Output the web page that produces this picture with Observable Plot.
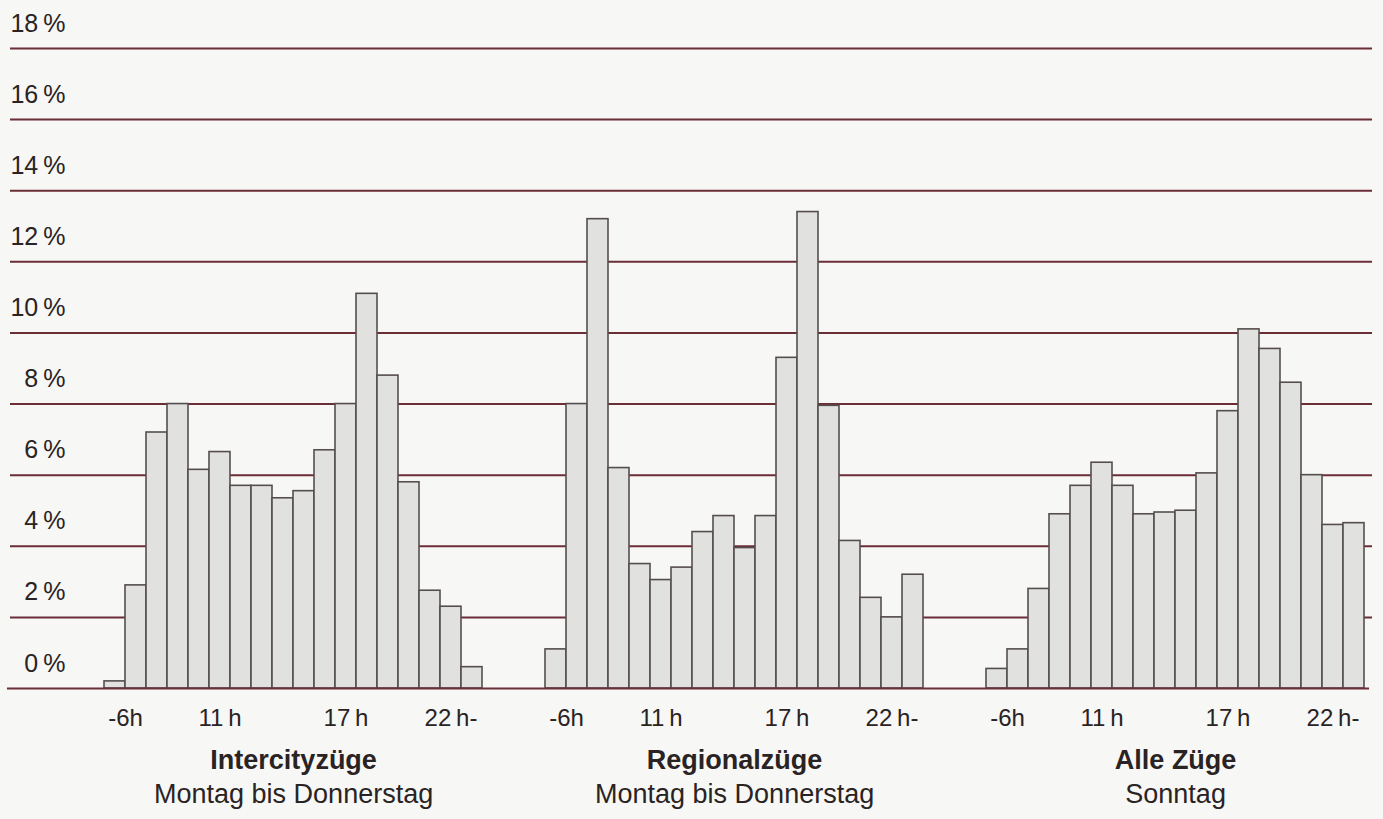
<!DOCTYPE html>
<html>
<head>
<meta charset="utf-8">
<script src="https://cdn.jsdelivr.net/npm/d3@7"></script>
<script src="https://cdn.jsdelivr.net/npm/@observablehq/plot@0.6"></script>
<style>
  html, body { margin: 0; padding: 0; background: #f7f7f5; }
  #chart svg { display: block; }
</style>
</head>
<body>
<div id="chart"></div>
<script>
// ---- data ----
const groups = ["Intercityzüge", "Regionalzüge", "Alle Züge"];
const subtitles = ["Montag bis Donnerstag", "Montag bis Donnerstag", "Sonntag"];
const hours = [6, 7, 8, 9, 10, 11, 12, 13, 14, 15, 16, 17, 18, 19, 20, 21, 22, 23];
const intercity = [0.2, 2.9, 7.2, 8.0, 6.15, 6.65, 5.7, 5.7, 5.35, 5.55, 6.7, 8.0, 11.1, 8.8, 5.8, 2.75, 2.3, 0.6];
const regional  = [1.1, 8.0, 13.2, 6.2, 3.5, 3.05, 3.4, 4.4, 4.85, 3.95, 4.85, 9.3, 13.4, 7.95, 4.15, 2.55, 2.0, 3.2];
const alleZuege = [0.55, 1.1, 2.8, 4.9, 5.7, 6.35, 5.7, 4.9, 4.95, 5.0, 6.05, 7.8, 10.1, 9.55, 8.6, 6.0, 4.6, 4.65];
const yTicks = [0, 2, 4, 6, 8, 10, 12, 14, 16, 18];
const tickHours = [6, 11, 17, 22];
const tickLabels = ["-6h", "11\u2009h", "17\u2009h", "22\u2009h-"];

const series = [intercity, regional, alleZuege];

// x domain: 18 hour slots per group, 3 empty slots between groups
const domain = [];
groups.forEach((g, gi) => {
  hours.forEach(h => domain.push(`${gi}-${h}`));
  if (gi < groups.length - 1) ["a", "b", "c"].forEach(s => domain.push(`gap${gi}${s}`));
});

const bars = groups.flatMap((g, gi) => series[gi].map((v, i) => ({key: `${gi}-${hours[i]}`, value: v})));
const ticks = groups.flatMap((g, gi) => tickHours.map((h, j) => ({key: `${gi}-${h}`, label: tickLabels[j], first: j === 0})));
const titles = groups.map((g, gi) => ({key: `${gi}-${hours[8]}`, title: g, sub: subtitles[gi]}));

const xRange = [97, 1370];
const halfBand = (xRange[1] - xRange[0]) / domain.length / 2;

const textColor = "#2a2323";
const gridColor = "#6b2d36";

const chart = Plot.plot({
  width: 1383,
  height: 819,
  marginLeft: 10,
  marginRight: 11,
  marginTop: 48,
  marginBottom: 131,
  style: {background: "#f7f7f5", fontFamily: "'Liberation Sans', Arial, Helvetica, sans-serif", color: textColor},
  x: {domain, range: xRange, padding: 0, axis: null},
  y: {domain: [0, 18], axis: null},
  marks: [
    Plot.ruleY(yTicks.filter(d => d > 0), {stroke: gridColor, strokeWidth: 2}),
    Plot.barY(bars, {x: "key", y: "value", fill: "#e1e1e0", stroke: "#554e4e", strokeWidth: 1.6, inset: 0}),
    Plot.ruleY([0], {stroke: gridColor, strokeWidth: 2, dx: -3}),
    Plot.text(yTicks, {y: d => d, text: d => `${d}\u2009%`, frameAnchor: "left", dx: 55, textAnchor: "end", lineAnchor: "bottom", dy: -17, fontSize: 25, fill: textColor}),
    Plot.text(ticks.filter(d => d.first), {x: "key", text: "label", frameAnchor: "bottom", lineAnchor: "bottom", dy: 37, dx: halfBand, fontSize: 24, fill: textColor}),
    Plot.text(ticks.filter(d => !d.first), {x: "key", text: "label", frameAnchor: "bottom", lineAnchor: "bottom", dy: 37, fontSize: 24, fill: textColor}),
    Plot.text(titles, {x: "key", text: "title", frameAnchor: "bottom", lineAnchor: "bottom", dy: 80, dx: halfBand, fontSize: 27, fontWeight: "bold", fill: textColor}),
    Plot.text(titles, {x: "key", text: "sub", frameAnchor: "bottom", lineAnchor: "bottom", dy: 114, dx: halfBand, fontSize: 27, fill: textColor})
  ]
});
document.getElementById("chart").appendChild(chart);
</script>
</body>
</html>
